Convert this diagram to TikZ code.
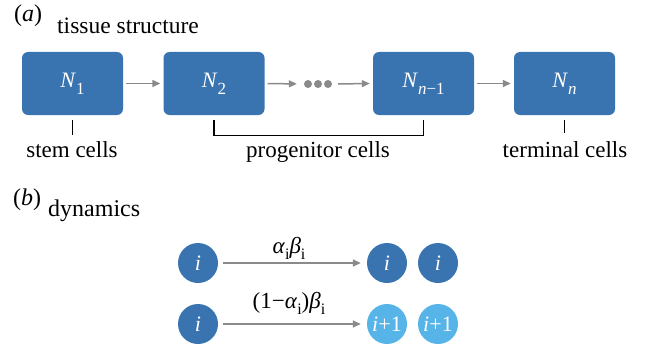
\documentclass[tikz,border=0pt]{standalone}
\usepackage{fontspec}
\setmainfont{Liberation Serif}
\usetikzlibrary{arrows.meta}
\definecolor{dblue}{HTML}{3A74B0}
\definecolor{lblue}{HTML}{56B4E8}
\definecolor{agray}{HTML}{8A8A8A}
\newcommand{\sbN}[1]{\raisebox{-0.3em}{\fontsize{17}{17}\selectfont #1}}
\newcommand{\sbg}[1]{\raisebox{-0.3em}{\fontsize{16}{16}\selectfont #1}}
\begin{document}
\begin{tikzpicture}[x=1pt,y=-1pt,
  box/.style={rectangle, rounded corners=6pt, fill=dblue, minimum width=101pt, minimum height=63pt, inner sep=0pt, text=white, font=\fontsize{22}{24}\selectfont},
  cell/.style={circle, fill=#1, minimum size=40pt, inner sep=0pt, text=white, font=\fontsize{22}{24}\selectfont},
  lbl/.style={anchor=base, inner sep=0pt, font=\fontsize{23}{26}\selectfont},
  flow/.style={draw=agray, line width=1.5pt, -{Triangle[length=8pt,width=7pt]}},
  tick/.style={draw=black, line width=1.2pt}]
\useasboundingbox (0,0) rectangle (645,345);
% panel (a)
\node[anchor=base west, inner sep=0pt, font=\fontsize{24}{26}\selectfont] (pa) at (14,22) {(\textit{a})};
\node[anchor=base west, inner sep=0pt, font=\fontsize{23.5}{26}\selectfont] (ta) at (57,34) {tissue structure};
\node[box] (N1) at (72.5,83.5) {\textit{N}\sbN{1}};
\node[box] (N2) at (214,83.5) {\textit{N}\sbN{2}};
\node[box] (Nm) at (423.5,83.5) {\textit{N}\sbN{\textit{n}−1}};
\node[box] (Nn) at (564.5,83.5) {\textit{N}\sbN{\textit{n}}};
\node[minimum width=30pt, minimum height=10pt, inner sep=0pt] (dots) at (318,84) {};
\foreach \dx in {-10,0,10} \fill[agray] ([xshift=\dx pt]dots.center) circle (4pt);
\draw[flow, shorten <=3pt, shorten >=3pt] (N1.east) -- (N2.west);
\draw[flow, shorten <=3pt, shorten >=6pt] (N2.east) -- (dots.west);
\draw[flow, shorten <=5pt, shorten >=3pt] (dots.east) -- (Nm.west);
\draw[flow, shorten <=3pt, shorten >=3pt] (Nm.east) -- (Nn.west);
\draw[tick] ([yshift=-5pt]N1.south) -- ++(0,15);
\draw[tick] ([yshift=-5pt]N2.south) -- ++(0,15) -| ([yshift=-5pt]Nm.south);
\draw[tick] ([yshift=-5pt]Nn.south) -- ++(0,13);
\node[lbl] (stem) at (72,157) {stem cells};
\node[lbl] (prog) at (318,157) {progenitor cells};
\node[lbl] (term) at (565,157) {terminal cells};
% panel (b)
\node[anchor=base west, inner sep=0pt, font=\fontsize{24}{26}\selectfont] (pb) at (13,205) {(\textit{b})};
\node[anchor=base west, inner sep=0pt, font=\fontsize{24}{26}\selectfont] (tb) at (48,216) {dynamics};
\node[cell=dblue] (a1) at (198,263) {\textit{i}};
\node[cell=dblue] (a2) at (387,263) {\textit{i}};
\node[cell=dblue] (a3) at (438,263) {\textit{i}};
\node[cell=dblue] (b1) at (198,324) {\textit{i}};
\node[cell=lblue] (b2) at (387,324) {\textit{i}+1};
\node[cell=lblue] (b3) at (438,324) {\textit{i}+1};
\draw[flow, shorten <=5pt, shorten >=6pt] (a1) -- (a2);
\draw[flow, shorten <=5pt, shorten >=6pt] (b1) -- (b2);
\node[anchor=base, inner sep=0pt, font=\fontsize{23}{24}\selectfont] (ra) at (289,253) {\textit{α}\sbg{i}\textit{β}\sbg{i}};
\node[anchor=base, inner sep=0pt, font=\fontsize{23}{24}\selectfont] (rb) at (289,308) {(1−\textit{α}\sbg{i})\textit{β}\sbg{i}};
\end{tikzpicture}
\end{document}
